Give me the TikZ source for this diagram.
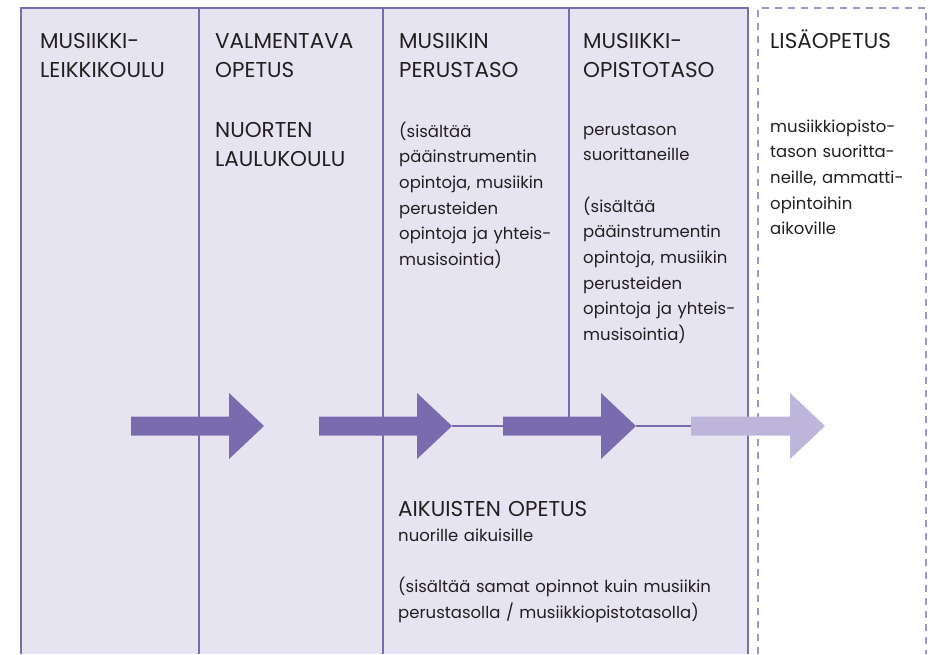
\documentclass[tikz,border=0pt]{standalone}
\usepackage{fontspec}
\setmainfont{Poppins}
\usepackage{tikz}
\usetikzlibrary{positioning}

\definecolor{boxfill}{RGB}{231,228,242}
\definecolor{frameline}{RGB}{123,106,176}
\definecolor{dashline}{RGB}{160,148,204}
\definecolor{arrowdark}{RGB}{122,106,174}
\definecolor{arrowlight}{RGB}{190,182,218}
\definecolor{textdark}{RGB}{35,31,32}

\begin{document}
\begin{tikzpicture}[x=1pt,y=-1pt]
    \def\YTOP{8}
    \def\YBOT{654}
    \def\YMID{426}
    \def\SHAFT{9.5}  %half thickness of shaft
    \def\HEAD{33}    %half width of head
    \def\HLEN{35}    %length of head

    \tikzset{
      frame/.style={draw=frameline,line width=2.4pt},
      dashframe/.style={draw=dashline,line width=2.4pt,
        dash pattern=on 7pt off 6pt},
      head/.style={anchor=base west,inner sep=0pt,align=left,
        text width=175pt,text=textdark,
        font=\fontsize{21.5}{29.5}\selectfont},
      body/.style={anchor=base west,inner sep=0pt,align=left,
        text width=175pt,text=textdark,
        font=\fontsize{16.5}{25.7}\selectfont},
      link/.style={draw=frameline,line width=2pt},
    }

    \useasboundingbox (0,0) rectangle (935,654);

    % BOXES
    \fill[boxfill] (21,\YTOP) rectangle (748,\YBOT);
    \draw[frame] (21,\YBOT) -- (21,\YTOP) -- (748,\YTOP) -- (748,\YBOT);
    \draw[frame] (199,\YTOP) -- (199,\YBOT);
    \draw[frame] (383,\YTOP) -- (383,\YBOT);
    \draw[frame] (569,\YTOP) -- (569,\YMID);
    \draw[dashframe] (758,\YBOT) -- (758,\YTOP) -- (926,\YTOP) -- (926,\YBOT);

    % ARROWS
    % #1 = start of shaft, #2 = base of head, #3 = colour, #4 = name
    \def\blockarrow#1#2#3#4{
      \fill[#3] (#1,\YMID-\SHAFT) coordinate (#4 tail) -- (#2,\YMID-\SHAFT)
        -- (#2,\YMID-\HEAD) -- (#2+\HLEN,\YMID) coordinate (#4 tip)
        -- (#2,\YMID+\HEAD) -- (#2,\YMID+\SHAFT) -- (#1,\YMID+\SHAFT) -- cycle;
      \coordinate (#4 start) at (#1,\YMID);
    }
    \blockarrow{131}{229}{arrowdark}{a1}
    \blockarrow{319}{417}{arrowdark}{a2}
    \blockarrow{503}{601}{arrowdark}{a3}
    \blockarrow{691}{790}{arrowlight}{a4}

    \draw[link] (a2 tip) -- (a3 start);
    \draw[link] (a3 tip) -- (a4 start);

    % TEXTS
    \node[head] (leikki) at (40,48) {MUSIIKKI-\\LEIKKIKOULU};
    \node[head] (valm) at (215,48) {VALMENTAVA\\OPETUS};
    \node[head] (laulu) at (215,137) {NUORTEN\\LAULUKOULU};
    \node[head] (perus) at (399,48) {MUSIIKIN\\PERUSTASO};
    \node[head] (opisto) at (583,48) {MUSIIKKI-\\OPISTOTASO};
    \node[head] (lisa) at (770,48) {LISÄOPETUS};

    \node[body] (perusbody) at (399,137) {(sisältää\\pääinstrumentin\\
      opintoja, musiikin\\perusteiden\\opintoja ja yhteis-\\musisointia)};
    \node[body] (opistobody) at (583,135) {perustason\\suorittaneille\\[25.7pt]
      (sisältää\\pääinstrumentin\\opintoja, musiikin\\perusteiden\\
      opintoja ja yhteis-\\musisointia)};
    \node[body] (lisabody) at (770,132) {musiikkiopisto-\\tason suoritta-\\
      neille, ammatti-\\opintoihin\\aikoville};

    \node[head,text width=340pt] (aikuis) at (398,516) {AIKUISTEN OPETUS};
    \node[body,text width=340pt] (aikuisbody) at (398,541) {nuorille aikuisille\\[25.7pt]
      (sisältää samat opinnot kuin musiikin\\perustasolla / musiikkiopistotasolla)};
\end{tikzpicture}
\end{document}
